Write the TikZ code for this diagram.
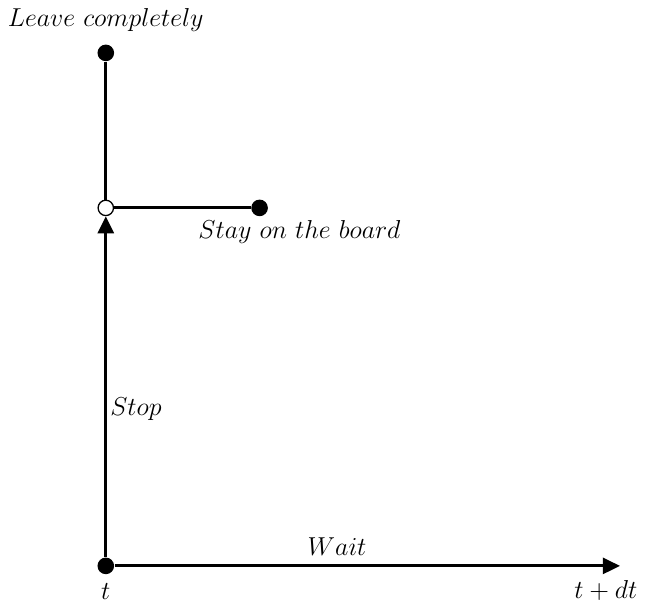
\documentclass[tikz,border=0pt]{standalone}
\usetikzlibrary{arrows.meta,positioning}

\begin{document}
\begin{tikzpicture}[
  font=\fontsize{11.6}{14}\selectfont,
  >={Triangle[length=2.8mm,width=2.6mm]},
  dot/.style={circle, fill, inner sep=0pt, minimum size=2.7mm},
  odot/.style={circle, draw, fill=white, inner sep=0pt, minimum size=2.5mm, line width=0.6pt},
  edge/.style={line width=1.4pt}
]
  \useasboundingbox (-1.72,-0.585) rectangle (8.88,9.20);

  % states
  \node[dot] (now) at (0,0) {};
  \node[odot] (stop) at (0,5.82) {};
  \node[dot] (leave) at (0,8.34) {};
  \node[dot] (stay) at (2.5,5.82) {};
  \coordinate (later) at (8.36,0);

  \draw[edge,->] (now) -- (later);
  \draw[edge,->] (now) -- (stop);
  \draw[edge] (stop) -- (leave);
  \draw[edge] (stop) -- (stay);

  % labels
  \node[above=0.8mm of leave] (leavelbl) {$Leave\ completely$};
  \node (staylbl) at (3.15,5.43) {$Stay\ on\ the\ board$};
  \node (stoplbl) at (0.49,2.54) {$Stop$};
  \node (waitlbl) at (3.76,0.31) {$Wait$};
  \node[below=1mm of now, inner sep=1pt] (nowlbl) {$t$};
  \node (laterlbl) at (8.13,-0.40) {$t+dt$};
\end{tikzpicture}
\end{document}
